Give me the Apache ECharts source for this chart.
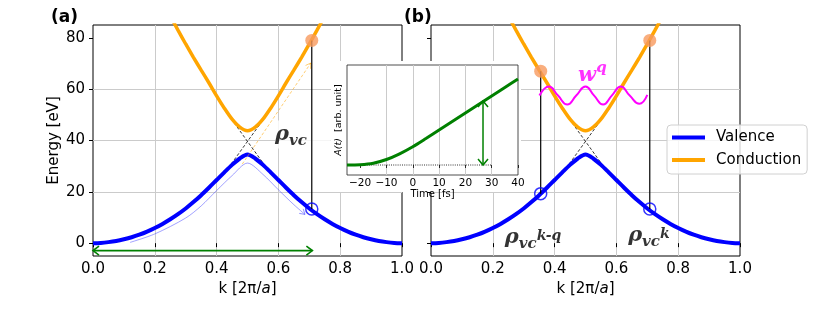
<!DOCTYPE html>
<html>
<head>
<meta charset="utf-8">
<script src="https://cdn.jsdelivr.net/npm/echarts@6.0.0/dist/echarts.min.js"></script>
<style>html,body{margin:0;padding:0;background:#fff;}#c{width:830px;height:312px;}</style>
</head>
<body>
<div id="c"></div>
<script>
// ---------------- data ----------------
const K = [0,0.025,0.05,0.075,0.1,0.125,0.15,0.175,0.2,0.225,0.25,0.275,0.3,0.325,0.35,0.375,0.4,0.425,0.45,0.475,0.5,
           0.525,0.55,0.575,0.6,0.625,0.65,0.675,0.7,0.725,0.75,0.775,0.8,0.825,0.85,0.875,0.9,0.925,0.95,0.975,1.0];
const VALENCE = [0,0.1,0.4,0.85,1.5,2.3,3.3,4.5,5.9,7.5,9.3,11.3,13.5,16.0,18.7,21.6,24.6,27.6,30.5,33.0,34.5,
                 33.0,30.5,27.6,24.6,21.6,18.7,16.0,13.5,11.3,9.3,7.5,5.9,4.5,3.3,2.3,1.5,0.85,0.4,0.1,0];
const KC = [0.25,0.275,0.3,0.325,0.35,0.375,0.4,0.425,0.45,0.475,0.5,0.525,0.55,0.575,0.6,0.625,0.65,0.675,0.7,0.725,0.75];
const CONDUCTION = [88.5,83.0,77.6,72.4,67.4,62.5,57.4,52.6,48.3,45.2,43.8,45.2,48.3,52.6,57.4,62.5,67.4,72.4,77.6,83.0,88.5];
const K_TICKS = [0,0.2,0.4,0.6,0.8,1.0];
const E_TICKS = [0,20,40,60,80];
// faint path of the electron in panel (a)
const FADE_K = [0.12,0.2,0.3,0.35,0.4,0.45,0.5,0.55,0.6,0.65,0.686];
const FADE_E = [0.3,3.6,9.8,14.5,20.5,26.3,31.2,26.8,20.8,15.0,11.2];
// excitation markers
const DOTS_A = [[0.708,79]];
const RINGS_A = [[0.708,13.3]];
const DOTS_B = [[0.355,67],[0.708,79]];
const RINGS_B = [[0.355,19.3],[0.708,13.3]];
// w^q wave (peaks / crossings / troughs)
const WAVE_K = [0.351,0.382,0.411,0.441,0.470,0.5,0.528,0.557,0.585,0.614,0.643,0.674,0.70];
const WAVE_E = [57.5,61.0,57.5,54.0,57.5,61.0,57.5,54.0,57.5,61.0,57.5,54.3,57.8];
// inset A(t)
const T_INSET = [-25,-20,-15,-10,-5,0,5,10,15,20,25,30,35,40];
const A_INSET = [0,0.003,0.018,0.055,0.112,0.183,0.265,0.35,0.435,0.52,0.605,0.69,0.775,0.86];
const T_TICKS = [-20,-10,0,10,20,30,40];

const zip = (a,b) => a.map((v,i)=>[v,b[i]]);

// ---------------- layout ----------------
const PA = {left:93, top:25, width:309, height:231};
const PB = {left:431, top:25, width:309, height:231};
const PI = {left:347, top:65, width:171, height:110};

function segSeries(data, color, width, dash, gi, z, hl, hw) {
  const headLen = hl || 6, headW = hw || 4.5;
  return {
    type:'custom', xAxisIndex:gi, yAxisIndex:gi, z:z, silent:true,
    itemStyle:{color:color},
    renderItem: function(params, api){
      const p0 = api.coord([api.value(0), api.value(1)]);
      const p1 = api.coord([api.value(2), api.value(3)]);
      const ls = {stroke: color, lineWidth: width, lineDash: dash, fill: null};
      const ch = [];
      if (api.value(4)) ch.push({type:'line', shape:{x1:p0[0],y1:p0[1],x2:p1[0],y2:p1[1]}, style: ls});
      function head(tip, from) {
        let dx = tip[0]-from[0], dy = tip[1]-from[1];
        const n = Math.hypot(dx,dy)||1; dx/=n; dy/=n;
        const nx = -dy, ny = dx;
        ch.push({type:'polyline', shape:{points:[
          [tip[0]-headLen*dx+headW*nx, tip[1]-headLen*dy+headW*ny],
          [tip[0], tip[1]],
          [tip[0]-headLen*dx-headW*nx, tip[1]-headLen*dy-headW*ny]]},
          style:{stroke: color, lineWidth: width, fill:null}});
      }
      if (api.value(5)) head(p0, p1);
      if (api.value(6)) head(p1, p0);
      return {type:'group', children: ch};
    },
    encode:{x:[0,2], y:[1,3]},
    data:data
  };
}

const serif = 'DejaVu Serif';
function mathLabel(pt, text, color, gi, z, extra) {
  return {
    type:'scatter', xAxisIndex:gi, yAxisIndex:gi, symbolSize:0, z:z, silent:true,
    data:[pt],
    label:Object.assign({show:true, position:[0,0], align:'left', verticalAlign:'middle',
      formatter:text,
      rich:{
        r:{fontFamily:serif, fontStyle:'italic', fontWeight:'bold', fontSize:21, lineHeight:28, color:color},
        s:{fontFamily:serif, fontStyle:'italic', fontWeight:'bold', fontSize:15, lineHeight:16, verticalAlign:'bottom', color:color},
        p:{fontFamily:serif, fontStyle:'italic', fontWeight:'bold', fontSize:14, lineHeight:22, verticalAlign:'top', padding:[5,0,0,0], color:color},
        q:{fontFamily:serif, fontStyle:'italic', fontWeight:'bold', fontSize:15, lineHeight:14, verticalAlign:'top', color:color}
      }}, extra || {})
  };
}

function mainX(gi) {
  return {
    type:'value', gridIndex:gi, min:0, max:1, interval:0.2,
    axisLine:{show:false},
    axisTick:{show:true, length:4, lineStyle:{color:'#000', width:1}},
    axisLabel:{fontSize:15, color:'#000', margin:6, formatter:v=>v.toFixed(1)},
    splitLine:{show:true, showMinLine:false, showMaxLine:false, lineStyle:{color:'#cbcbcb', width:1}},
    name:'k [2π/{i|a}]', nameLocation:'middle', nameGap:21,
    nameTextStyle:{fontSize:15, color:'#000', rich:{i:{fontSize:15, fontStyle:'italic', color:'#000'}}}
  };
}
function mainY(gi, labels) {
  const o = {
    type:'value', gridIndex:gi, min:-5, max:85,
    axisLine:{show:false},
    axisTick:{show:true, length:4, customValues:E_TICKS, lineStyle:{color:'#000', width:1}},
    axisLabel:{show:labels, fontSize:15, color:'#000', margin:8, customValues:E_TICKS},
    splitLine:{show:true, showMinLine:false, showMaxLine:false, lineStyle:{color:'#cbcbcb', width:1}}
  };
  if (labels) {
    o.name = 'Energy [eV]'; o.nameLocation = 'middle'; o.nameGap = 30;
    o.nameTextStyle = {fontSize:15, color:'#000'};
  }
  return o;
}

const series = [];
[0,1].forEach(gi => {
  series.push(segSeries([[0.438,50,0.562,29.3,1,0,0],[0.438,29.3,0.562,50,1,0,0]], '#000', 0.8, [3,2], gi, 2));
  series.push({type:'line', name:'Valence', xAxisIndex:gi, yAxisIndex:gi, data:zip(K,VALENCE), smooth:0.3,
    symbol:'none', lineStyle:{width:4, color:'#0000ff'}, itemStyle:{color:'#0000ff'}, z:3, silent:true});
  series.push({type:'line', name:'Conduction', xAxisIndex:gi, yAxisIndex:gi, data:zip(KC,CONDUCTION), smooth:0.3,
    symbol:'none', lineStyle:{width:3.5, color:'#ffa500'}, itemStyle:{color:'#ffa500'}, z:3, silent:true});
});
// panel (a) extras
series.push({type:'line', xAxisIndex:0, yAxisIndex:0, data:zip(FADE_K,FADE_E), smooth:0.3, symbol:'none',
  lineStyle:{width:1, color:'rgba(70,70,255,0.5)'}, z:4, silent:true});
series.push(segSeries([[0.65,15.0,0.686,11.2,0,0,1]], 'rgba(70,70,255,0.6)', 1, null, 0, 4, 5, 3));
series.push(segSeries([[0.483,30.8,0.705,70.2,1,0,1]], 'rgba(255,165,0,0.55)', 1, [3,2], 0, 4, 5, 3));
series.push(segSeries([[0.708,13.3,0.708,79,1,0,0]], '#000', 1.2, null, 0, 5));
series.push(segSeries([[0,-2.9,0.71,-2.9,1,1,1]], '#008000', 1.6, null, 0, 5, 6, 4.5));
series.push({type:'scatter', xAxisIndex:0, yAxisIndex:0, data:DOTS_A, symbolSize:13, itemStyle:{color:'#f89a5e'}, z:6, silent:true});
series.push({type:'scatter', xAxisIndex:0, yAxisIndex:0, data:RINGS_A, symbolSize:12,
  itemStyle:{color:'rgba(0,0,0,0)', borderColor:'#0000ff', borderWidth:1.5}, z:6, silent:true});
series.push(mathLabel([0.589,42.3], '{r|ρ}{s|vc}', '#000', 0, 4.5,
  {backgroundColor:'#fff', padding:[0,24,0,0]}));
// panel (b) extras
series.push(segSeries([[0.355,19.3,0.355,67,1,0,0],[0.708,13.3,0.708,79,1,0,0]], '#000', 1.2, null, 1, 5));
series.push({type:'line', xAxisIndex:1, yAxisIndex:1, data:zip(WAVE_K,WAVE_E), smooth:0.5, symbol:'none',
  lineStyle:{width:2, color:'#ff00ff'}, z:5, silent:true});
series.push({type:'scatter', xAxisIndex:1, yAxisIndex:1, data:DOTS_B, symbolSize:13, itemStyle:{color:'#f89a5e'}, z:6, silent:true});
series.push({type:'scatter', xAxisIndex:1, yAxisIndex:1, data:RINGS_B, symbolSize:12,
  itemStyle:{color:'rgba(0,0,0,0)', borderColor:'#0000ff', borderWidth:1.5}, z:6, silent:true});
series.push(mathLabel([0.239,2.0], '{r|ρ}{s|vc}{p|k-q}', '#000', 1, 8));
series.push(mathLabel([0.638,2.8], '{r|ρ}{s|vc}{p|k}', '#000', 1, 8));
series.push(mathLabel([0.476,65.5], '{r|w}{q|q}', '#ff00ff', 1, 8));
// inset
series.push(segSeries([[-25,0,30,0,1,0,0]], '#000', 0.8, [1,1.2], 2, 23));
series.push({type:'line', xAxisIndex:2, yAxisIndex:2, data:zip(T_INSET,A_INSET), smooth:0.3, symbol:'none',
  lineStyle:{width:3, color:'#008000'}, z:24, silent:true});
series.push(segSeries([[26.7,0,26.7,0.64,1,1,1]], '#008000', 1.5, null, 2, 25, 6, 5));

const option = {
  animation:false,
  textStyle:{fontFamily:'DejaVu Sans'},
  title:[
    {text:'(a)', left:51, top:9, padding:0, textStyle:{fontSize:17, fontWeight:'bold', color:'#000'}},
    {text:'(b)', left:404, top:9, padding:0, textStyle:{fontSize:17, fontWeight:'bold', color:'#000'}}
  ],
  legend:{data:['Valence','Conduction'], orient:'vertical', left:667, top:125, icon:'rect',
    itemWidth:33, itemHeight:4, itemGap:4.5, padding:[3.5,6,5,5],
    textStyle:{fontSize:15, color:'#000', lineHeight:18, padding:[0,0,0,6]},
    borderColor:'#d0d0d0', borderWidth:1, borderRadius:4, backgroundColor:'rgba(255,255,255,0.8)'},
  graphic:[{type:'rect', z:20, silent:true,
    shape:{x:PI.left-16, y:PI.top-4, width:PI.width+19, height:PI.height+21}, style:{fill:'#fff'}}],
  grid:[
    Object.assign({show:true, borderColor:'#000', borderWidth:1}, PA),
    Object.assign({show:true, borderColor:'#000', borderWidth:1}, PB),
    Object.assign({show:true, borderColor:'#222', borderWidth:0.8, backgroundColor:'#fff', z:21}, PI)
  ],
  xAxis:[mainX(0), mainX(1),
    {type:'value', gridIndex:2, min:-25, max:40, z:22,
     axisLine:{show:false},
     axisTick:{show:true, length:3, customValues:T_TICKS, lineStyle:{color:'#000', width:0.8}},
     axisLabel:{fontSize:10.5, color:'#000', margin:3, customValues:T_TICKS, formatter:v=> v<0 ? '\u2212'+Math.abs(v) : String(v)},
     splitLine:{show:true, showMinLine:false, showMaxLine:false, lineStyle:{color:'#cbcbcb', width:1}},
     name:'Time [fs]', nameLocation:'middle', nameGap:14, nameTextStyle:{fontSize:10, color:'#000'}}
  ],
  yAxis:[mainY(0,true), mainY(1,false),
    {type:'value', gridIndex:2, min:-0.1, max:1.0, z:22,
     axisLine:{show:false}, axisTick:{show:false}, axisLabel:{show:false}, splitLine:{show:false},
     name:'{i|A(t)}  [arb. unit]', nameLocation:'middle', nameGap:3,
     nameTextStyle:{fontSize:9.5, color:'#000', rich:{i:{fontSize:9.5, fontStyle:'italic', color:'#000'}}}}
  ],
  series:series
};
const chart = echarts.init(document.getElementById('c'), null, {renderer:'canvas'});
chart.setOption(option);
</script>
</body>
</html>
